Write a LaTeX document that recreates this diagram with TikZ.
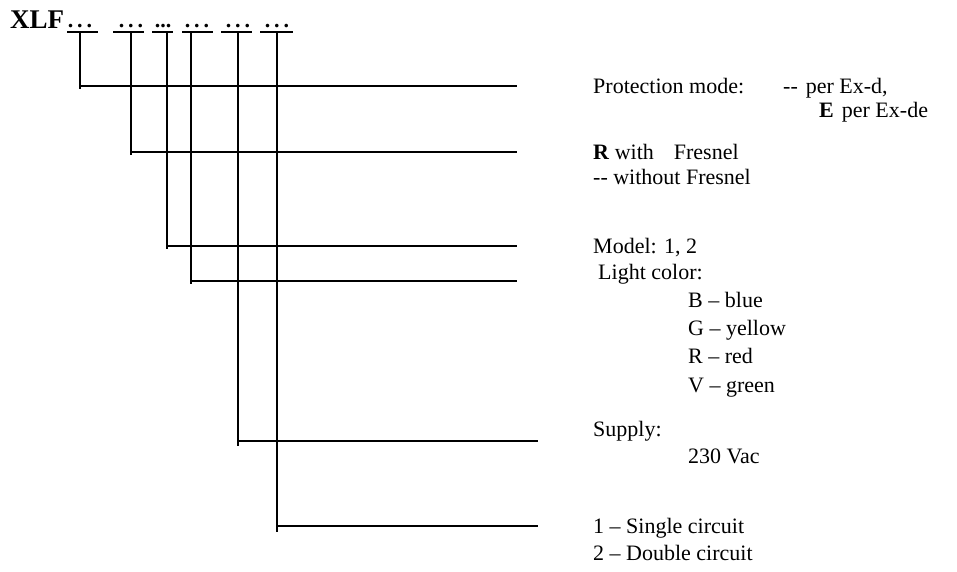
\documentclass[tikz,border=0pt]{standalone}
\usepackage{fontspec}
\setmainfont{Liberation Serif}
\newcommand{\hh}{\mbox{-}\mbox{-}}
\begin{document}
\begin{tikzpicture}[x=1pt,y=-1pt,
  lbl/.style={anchor=base west,inner sep=0pt,font=\fontsize{22}{25}\selectfont},
  dots/.style={anchor=base,inner sep=0pt,font=\fontsize{22}{25}\selectfont\bfseries},
  ln/.style={line width=1.3pt},
  ul/.style={line width=1.2pt}]
\useasboundingbox (0,0) rectangle (957,571);
% code head
\node[anchor=base west,inner sep=0pt,font=\fontsize{27}{30}\selectfont\bfseries] (xlf) at (10,28) {XLF};
% dot groups
\node[dots] (d1) at (80,27) {.\hspace{4pt}.\hspace{4pt}.};
\node[dots] (d2) at (131,27) {.\hspace{4pt}.\hspace{4pt}.};
\node[dots] (d3) at (163,27) {...};
\node[dots] (d4) at (197,27) {.\hspace{4pt}.\hspace{4pt}.};
\node[dots] (d5) at (238,27) {.\hspace{4pt}.\hspace{4pt}.};
\node[dots] (d6) at (277,27) {.\hspace{4pt}.\hspace{4pt}.};
% underlines
\draw[ul] (67,32) -- (98,32);
\draw[ul] (113,32) -- (144,32);
\draw[ul] (152,32) -- (173,32);
\draw[ul] (182,32) -- (213,32);
\draw[ul] (221,32) -- (252,32);
\draw[ul] (260,32) -- (293,32);
% top connection points
\coordinate (u1) at (80,32);
\coordinate (u2) at (131,32);
\coordinate (u3) at (167,32);
\coordinate (u4) at (191,32);
\coordinate (u5) at (238,32);
\coordinate (u6) at (277,32);
% line ends
\coordinate (e1) at (517,86);
\coordinate (e2) at (517,152);
\coordinate (e3) at (517,246);
\coordinate (e4) at (517,281);
\coordinate (e5) at (538,441);
\coordinate (e6) at (538,526);
% connectors
\draw[ln] (u1) -- ++(0,57);
\draw[ln] (u1 |- e1) -- (e1);
\draw[ln] (u2) -- ++(0,123);
\draw[ln] (u2 |- e2) -- (e2);
\draw[ln] (u3) -- ++(0,217);
\draw[ln] (u3 |- e3) -- (e3);
\draw[ln] (u4) -- ++(0,252);
\draw[ln] (u4 |- e4) -- (e4);
\draw[ln] (u5) -- ++(0,414);
\draw[ln] (u5 |- e5) -- (e5);
\draw[ln] (u6) -- ++(0,500);
\draw[ln] (u6 |- e6) -- (e6);
% labels
\node[lbl] (t1) at (593,93) {Protection mode:};
\node[lbl] (t1a) at (783,93) {\hh\hspace{8pt}per Ex-d,};
\node[lbl] (t1b) at (819,117.5) {\textbf{E}\hspace{8pt}per Ex-de};
\node[lbl] (t2) at (593,159) {\textbf{R} with\hspace{20pt}Fresnel};
\node[lbl] (t2a) at (593,184) {\hh{} without Fresnel};
\node[lbl] (t3) at (593,253) {Model: 1, 2};
\node[lbl] (t4) at (598,279) {Light color:};
\node[lbl] (c1) at (688,307) {B -- blue};
\node[lbl] (c2) at (688,335) {G -- yellow};
\node[lbl] (c3) at (688,363) {R -- red};
\node[lbl] (c4) at (688,392) {V -- green};
\node[lbl] (t5) at (593,436) {Supply:};
\node[lbl] (t5a) at (688,463) {230 Vac};
\node[lbl] (t6) at (593,533) {1 -- Single circuit};
\node[lbl] (t6a) at (593,560) {2 -- Double circuit};
\end{tikzpicture}
\end{document}
